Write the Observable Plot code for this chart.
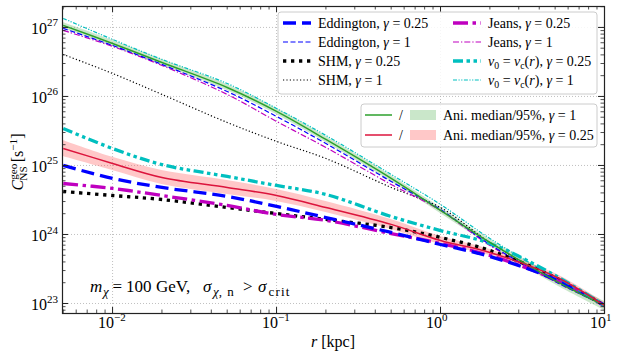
<!DOCTYPE html>
<html><head><meta charset="utf-8">
<script src="https://cdn.jsdelivr.net/npm/d3@7"></script>
<script src="https://cdn.jsdelivr.net/npm/@observablehq/plot@0.6"></script>
<style>body{margin:0;background:#fff}</style>
</head><body><div id="chart"></div>
<script>
// ---- data ----
const r = [0.005, 0.01, 0.02, 0.05, 0.1, 0.2, 0.5, 1, 2, 5, 10];
const eddington025 = [1.00e25, 6.49e24, 4.80e24, 3.56e24, 2.55e24, 1.76e24, 1.07e24, 7.16e23, 4.80e23, 2.23e23, 9.35e22];
const eddington1   = [9.68e26, 5.48e26, 2.91e26, 1.18e26, 5.13e25, 2.08e25, 5.86e24, 2.30e24, 7.16e23, 2.08e23, 9.35e22];
const shm025       = [4.20e24, 3.67e24, 3.21e24, 2.46e24, 2.01e24, 1.65e24, 1.26e24, 9.06e23, 5.86e23, 2.38e23, 9.35e22];
const shm1         = [4.06e26, 2.15e26, 1.07e26, 4.20e25, 2.23e25, 1.26e25, 4.80e24, 2.46e24, 7.66e23, 2.15e23, 9.35e22];
const jeans025     = [5.48e24, 4.65e24, 3.67e24, 2.63e24, 1.95e24, 1.60e24, 1.03e24, 7.41e23, 4.97e23, 2.23e23, 9.35e22];
const jeans1       = [9.06e26, 5.31e26, 2.81e26, 1.07e26, 4.35e25, 1.82e25, 5.31e24, 2.23e24, 6.93e23, 2.08e23, 9.35e22];
const vc025        = [3.44e25, 1.76e25, 1.03e25, 6.93e24, 5.13e24, 3.80e24, 1.82e24, 1.14e24, 7.41e23, 2.55e23, 9.35e22];
const vc1          = [1.35e27, 6.70e26, 3.44e26, 1.54e26, 6.70e25, 2.72e25, 7.41e24, 2.72e24, 8.75e23, 2.38e23, 9.68e22];
const ani1Median   = [1.07e27, 5.86e26, 3.11e26, 1.35e26, 6.07e25, 2.38e25, 6.49e24, 2.23e24, 7.66e23, 2.15e23, 9.35e22];
const ani1Lo       = [9.68e26, 5.31e26, 2.81e26, 1.22e26, 5.48e25, 2.15e25, 5.86e24, 2.01e24, 6.93e23, 1.88e23, 7.93e22];
const ani1Hi       = [1.18e27, 6.49e26, 3.44e26, 1.49e26, 6.70e25, 2.63e25, 7.16e24, 2.46e24, 8.47e23, 2.46e23, 1.07e23];
const ani025Median = [1.76e25, 1.07e25, 6.70e24, 4.80e24, 3.67e24, 2.46e24, 1.40e24, 8.18e23, 5.48e23, 2.46e23, 9.35e22];
const ani025Lo     = [1.35e25, 8.47e24, 5.31e24, 3.80e24, 3.01e24, 2.08e24, 1.18e24, 7.16e23, 4.97e23, 2.23e23, 8.47e22];
const ani025Hi     = [2.30e25, 1.31e25, 8.47e24, 6.07e24, 4.49e24, 3.01e24, 1.65e24, 9.35e23, 6.07e23, 2.72e23, 1.03e23];

const xMajor = [0.01, 0.1, 1, 10];
const xTickExps = ["\u22122", "\u22121", "0", "1"];
const yMajor = [1e23, 1e24, 1e25, 1e26, 1e27];
const yTickExps = ["23", "24", "25", "26", "27"];

// ---- styles ----
const FONT = "Liberation Serif, Times New Roman, serif";
const W = 623, H = 360, ML = 62, MR = 19, MT = 6, MB = 47;
const PW = W - ML - MR, PH = H - MT - MB;
const BLUE = "#0000ff", MAG = "#bf00bf", CYAN = "#00bfbf", GREEN = "#2ca02c", RED = "#dc143c";
const CURVE = "catmull-rom";

const lineSeries = [
  {v: shm1,         stroke: "#000", width: 1.2, dash: "1.2,2.2"},
  {v: jeans1,       stroke: MAG,  width: 1.2, dash: "6,2,1.3,2"},
  {v: eddington1,   stroke: BLUE, width: 1.2, dash: "5,2.5"},
  {v: vc1,          stroke: CYAN, width: 1.2, dash: "4,1.5,1.2,1.5,1.2,1.5"},
  {v: shm025,       stroke: "#000", width: 3.3, dash: "3.3,4.7"},
  {v: jeans025,     stroke: MAG,  width: 3.3, dash: "15,4.5,3.5,4.5"},
  {v: eddington025, stroke: BLUE, width: 3.3, dash: "13,6"},
  {v: vc025,        stroke: CYAN, width: 3.3, dash: "10,3.5,3.5,3.5,3.5,3.5"},
  {v: ani1Median,   stroke: GREEN, width: 1.5, dash: null},
  {v: ani025Median, stroke: RED,  width: 1.5, dash: null}
];

const xMinor = [], yMinor = [];
for (const k of [-3, -2, -1, 0]) for (let m = 2; m <= 9; m++) { const v = m * 10 ** k; if (v > 0.00495 && v < 10) xMinor.push(v); }
for (const k of [22, 23, 24, 25, 26, 27]) for (let m = 2; m <= 9; m++) { const v = m * 10 ** k; if (v > 7.16e22 && v < 2.01e27) yMinor.push(v); }

const gridStyle = {stroke: "#b0b0b0", strokeWidth: 0.8, strokeDasharray: "1,2"};
const MAJ = 6, MIN = 3.5;

const marks = [
  Plot.ruleX(xMajor, {x: d => d, ...gridStyle}),
  Plot.ruleY(yMajor, {y: d => d, ...gridStyle}),
  Plot.areaY(r, {x: r, y1: ani1Lo, y2: ani1Hi, fill: GREEN, fillOpacity: 0.25, curve: CURVE, clip: true}),
  Plot.areaY(r, {x: r, y1: ani025Lo, y2: ani025Hi, fill: "#ff6060", fillOpacity: 0.35, curve: CURVE, clip: true}),
  ...lineSeries.map(s => Plot.line(r, {x: r, y: s.v, stroke: s.stroke, strokeWidth: s.width, strokeDasharray: s.dash, strokeLinecap: "butt", curve: CURVE, clip: true})),
  // inward ticks on all four sides
  Plot.ruleX(xMajor, {x: d => d, insetTop: PH - MAJ, stroke: "#222"}),
  Plot.ruleX(xMajor, {x: d => d, insetBottom: PH - MAJ, stroke: "#222"}),
  Plot.ruleX(xMinor, {x: d => d, insetTop: PH - MIN, stroke: "#222", strokeWidth: 0.8}),
  Plot.ruleX(xMinor, {x: d => d, insetBottom: PH - MIN, stroke: "#222", strokeWidth: 0.8}),
  Plot.ruleY(yMajor, {y: d => d, insetRight: PW - MAJ, stroke: "#222"}),
  Plot.ruleY(yMajor, {y: d => d, insetLeft: PW - MAJ, stroke: "#222"}),
  Plot.ruleY(yMinor, {y: d => d, insetRight: PW - MIN, stroke: "#222", strokeWidth: 0.8}),
  Plot.ruleY(yMinor, {y: d => d, insetLeft: PW - MIN, stroke: "#222", strokeWidth: 0.8}),
  Plot.frame({stroke: "#222", strokeWidth: 1.2}),
  // tick labels
  Plot.text(xMajor, {x: d => d, frameAnchor: "bottom", text: () => "10", textAnchor: "end", dx: 1.5, dy: 14, fontSize: 16, fontFamily: FONT, fill: "#000"}),
  Plot.text(xMajor, {x: d => d, frameAnchor: "bottom", text: (d, i) => xTickExps[i], textAnchor: "start", dx: 1.5, dy: 7, fontSize: 11, fontFamily: FONT, fill: "#000"}),
  Plot.text(yMajor, {y: d => d, frameAnchor: "left", text: () => "10", textAnchor: "end", dx: -15.5, dy: 1.5, fontSize: 16, fontFamily: FONT, fill: "#000"}),
  Plot.text(yMajor, {y: d => d, frameAnchor: "left", text: (d, i) => yTickExps[i], textAnchor: "end", dx: -4.5, dy: -4.5, fontSize: 11, fontFamily: FONT, fill: "#000"})
];

const svg = Plot.plot({
  width: W, height: H,
  marginLeft: ML, marginRight: MR, marginTop: MT, marginBottom: MB,
  x: {type: "log", domain: [0.00495, 10], axis: null},
  y: {type: "log", domain: [7.16e22, 2.01e27], axis: null},
  style: {fontFamily: FONT, background: "white", overflow: "visible"},
  marks
});
document.getElementById("chart").appendChild(svg);

// ---- rich text helper ----
function rich(parent, x, y, parts, size, anchor) {
  const t = parent.append("text").attr("x", x).attr("y", y).attr("font-family", FONT)
    .attr("font-size", size).attr("fill", "#000").attr("text-anchor", anchor || "start");
  let cur = 0;
  for (const p of parts) {
    const [str, kind = "", extra = {}] = Array.isArray(p) ? p : [p];
    const target = kind.includes("sub") ? size * 0.22 : kind.includes("sup") ? -size * 0.4 : 0;
    const ts = t.append("tspan").attr("dy", target - cur).text(str);
    cur = target;
    if (kind.includes("i")) ts.attr("font-style", "italic");
    if (kind.includes("sub") || kind.includes("sup")) ts.attr("font-size", extra.fs || size * 0.7);
    if (extra.dx) ts.attr("dx", extra.dx);
    if (extra.x != null) ts.attr("x", extra.x);
    if (extra.ls) ts.attr("letter-spacing", extra.ls);
  }
  return t;
}

const S = d3.select(svg);

// ---- legends ----
const lg = S.append("g");
lg.append("rect").attr("x", 278).attr("y", 12).attr("width", 319).attr("height", 82).attr("rx", 3)
  .attr("fill", "white").attr("fill-opacity", 0.85).attr("stroke", "#cccccc");
const L1 = [
  {s: lineSeries[6], col: 0, row: 0, parts: ["Eddington, ", ["\u03b3", "i"], " = 0.25"]},
  {s: lineSeries[2], col: 0, row: 1, parts: ["Eddington, ", ["\u03b3", "i"], " = 1"]},
  {s: lineSeries[4], col: 0, row: 2, parts: ["SHM, ", ["\u03b3", "i"], " = 0.25"]},
  {s: lineSeries[0], col: 0, row: 3, parts: ["SHM, ", ["\u03b3", "i"], " = 1"]},
  {s: lineSeries[5], col: 1, row: 0, parts: ["Jeans, ", ["\u03b3", "i"], " = 0.25"]},
  {s: lineSeries[1], col: 1, row: 1, parts: ["Jeans, ", ["\u03b3", "i"], " = 1"]},
  {s: lineSeries[7], col: 1, row: 2, parts: [["v", "i"], ["0", "sub"], " = ", ["v", "i"], ["c", "sub"], "(", ["r", "i"], "), ", ["\u03b3", "i"], " = 0.25"]},
  {s: lineSeries[3], col: 1, row: 3, parts: [["v", "i"], ["0", "sub"], " = ", ["v", "i"], ["c", "sub"], "(", ["r", "i"], "), ", ["\u03b3", "i"], " = 1"]}
];
const colX = [[283, 311, 318], [453, 481, 488]];
const rowY = [23, 42, 61, 80];
for (const e of L1) {
  const [a, b, tx] = colX[e.col], y = rowY[e.row];
  lg.append("line").attr("x1", a).attr("x2", b).attr("y1", y).attr("y2", y)
    .attr("stroke", e.s.stroke).attr("stroke-width", e.s.width).attr("stroke-dasharray", e.s.dash);
  rich(lg, tx, y + 4.5, e.parts, 14);
}

const lg2 = S.append("g");
lg2.append("rect").attr("x", 361).attr("y", 104).attr("width", 236).attr("height", 43).attr("rx", 3)
  .attr("fill", "white").attr("fill-opacity", 0.85).attr("stroke", "#cccccc");
const L2 = [
  {c: GREEN, fill: GREEN, op: 0.25, y: 115, parts: ["Ani. median/95%, ", ["\u03b3", "i"], " = 1"]},
  {c: RED, fill: "#ff6060", op: 0.35, y: 135, parts: ["Ani. median/95%, ", ["\u03b3", "i"], " = 0.25"]}
];
for (const e of L2) {
  lg2.append("line").attr("x1", 365).attr("x2", 392).attr("y1", e.y).attr("y2", e.y).attr("stroke", e.c).attr("stroke-width", 1.5);
  rich(lg2, 399, e.y + 4.5, ["/"], 14);
  lg2.append("rect").attr("x", 410).attr("y", e.y - 5).attr("width", 26).attr("height", 10).attr("fill", e.fill).attr("fill-opacity", e.op);
  rich(lg2, 443, e.y + 4.5, e.parts, 14);
}

// ---- annotation ----
rich(S, 90, 292, [["m", "i", {x: 90}], ["\u03c7", "sub i", {x: 103, fs: 13}], ["=", "", {x: 112.5}], ["100", "", {x: 126}], ["GeV,", "", {x: 156}],
  ["\u03c3", "i", {x: 203}], ["\u03c7", "sub i", {x: 213, fs: 13}], [", n", "sub", {fs: 13, ls: 1}], [">", "", {x: 243}],
  ["\u03c3", "i", {x: 258}], ["crit", "sub", {x: 268.5, fs: 13, ls: 1.2}]], 17);

// ---- axis titles ----
rich(S, 333, 347, [["r", "i"], " [kpc]"], 16, "middle");
const yl = S.append("g").attr("transform", "translate(23,162) rotate(-90)");
rich(yl, 0, 0, [["C", "i"], ["geo", "sup"], ["NS", "sub", {dx: -17}], " [s", ["\u22121", "sup"], "]"], 16, "middle");
</script></body></html>
